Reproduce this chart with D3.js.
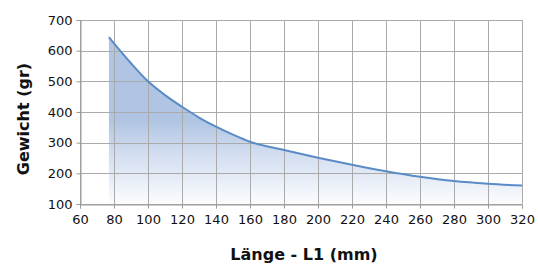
<!DOCTYPE html>
<html><head><meta charset="utf-8">
<script src="https://cdnjs.cloudflare.com/ajax/libs/d3/7.8.5/d3.min.js"></script>
<style>body{margin:0;background:#fff}svg{display:block}</style>
</head><body>
<script>
const lengths = [77,80,90,100,110,120,130,140,150,160,180,200,220,240,260,280,300,320];
const weights = [644,624,559,500,455,417,382,352,326,303,276,251,228,207,189,175,166,160];
const xTicks = [60,80,100,120,140,160,180,200,220,240,260,280,300,320];
const yTicks = [100,200,300,400,500,600,700];
const xTitle = "Länge - L1 (mm)";
const yTitle = "Gewicht (gr)";

const W=538,H=265;
const m={l:80,r:16,t:20,b:61};
const svg=d3.select("body").append("svg").attr("width",W).attr("height",H);
const x=d3.scaleLinear().domain([60,320]).range([m.l,W-m.r]);
const y=d3.scaleLinear().domain([100,700]).range([H-m.b,m.t]);
const data=lengths.map((d,i)=>({x:d,y:weights[i]}));

const defs=svg.append("defs");
const g=defs.append("linearGradient").attr("id","fillg").attr("gradientUnits","userSpaceOnUse")
  .attr("x1",0).attr("x2",0).attr("y1",y(370)).attr("y2",y(100));
g.append("stop").attr("offset",0).attr("stop-color","#b0c5e3");
g.append("stop").attr("offset",0.35).attr("stop-color","#cfdbee");
g.append("stop").attr("offset",1).attr("stop-color","#fbfcfe");

// area
svg.append("path").datum(data)
  .attr("d",d3.area().x(d=>x(d.x)).y0(y(100)).y1(d=>y(d.y)).curve(d3.curveMonotoneX))
  .attr("fill","url(#fillg)");

// grid
const grid=svg.append("g");
grid.selectAll(".vx").data(xTicks).join("line")
  .attr("x1",d=>Math.round(x(d))+0.5).attr("x2",d=>Math.round(x(d))+0.5)
  .attr("y1",y(700)).attr("y2",y(100)).attr("stroke","#aaaaaa").attr("stroke-width",1);
grid.selectAll(".hy").data(yTicks).join("line")
  .attr("y1",d=>Math.round(y(d))+0.5).attr("y2",d=>Math.round(y(d))+0.5)
  .attr("x1",x(60)).attr("x2",x(320)).attr("stroke","#aaaaaa").attr("stroke-width",1);

// line
svg.append("path").datum(data)
  .attr("d",d3.line().x(d=>x(d.x)).y(d=>y(d.y)).curve(d3.curveMonotoneX))
  .attr("fill","none").attr("stroke","#5a8bc6").attr("stroke-width",2);

// axes
const xa=svg.append("g").attr("transform",`translate(0,${Math.round(y(100))+0.5})`)
  .call(d3.axisBottom(x).tickValues(xTicks).tickSize(4).tickPadding(6).tickFormat(d3.format("d")));
const ya=svg.append("g").attr("transform",`translate(${Math.round(x(60))+0.5},0)`)
  .call(d3.axisLeft(y).tickValues(yTicks).tickSize(4).tickPadding(4).tickFormat(d3.format("d")));
[xa,ya].forEach(a=>{
  a.select(".domain").attr("stroke","#999999");
  a.selectAll(".tick line").attr("stroke","#999999");
  a.selectAll("text").attr("fill","#111").style("font-family","DejaVu Sans, sans-serif").style("font-size","13px");
});

svg.append("text").attr("x",304).attr("y",260)
  .attr("text-anchor","middle").style("font-family","DejaVu Sans, sans-serif")
  .style("font-weight","bold").style("font-size","16px").attr("fill","#111").text(xTitle);
svg.append("text").attr("transform",`translate(29,119) rotate(-90)`)
  .attr("text-anchor","middle").style("font-family","DejaVu Sans, sans-serif")
  .style("font-weight","bold").style("font-size","16px").attr("fill","#111").text(yTitle);
</script>
</body></html>
